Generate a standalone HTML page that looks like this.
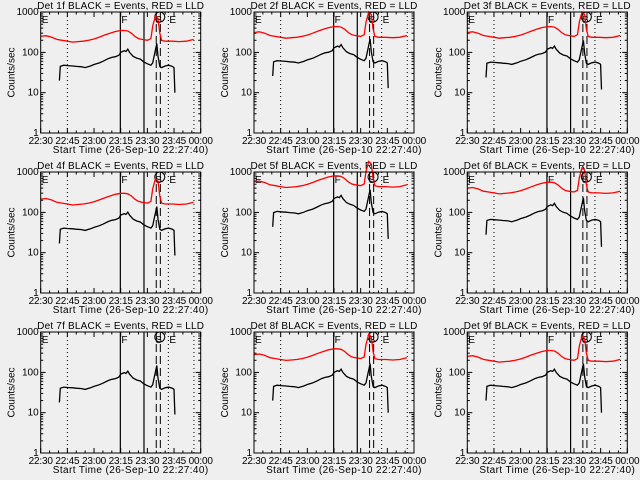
<!DOCTYPE html>
<html><head><meta charset="utf-8"><style>
body{margin:0;background:#efefef;}
svg{display:block;}
text{font-family:"Liberation Sans",sans-serif;font-size:10px;fill:#000;}
</style></head><body>
<svg id="chart" width="640" height="480" viewBox="0 0 640 480"></svg>
<script>
const detNames=["1f","2f","3f","4f","5f","6f","7f","8f","9f"];
const tickLabels=["22:30","22:45","23:00","23:15","23:30","23:45","00:00"];
const yTickLabels=["1000","100","10","1"];
const yTickValues=[1000,100,10,1];
const blackTimes=[10.5,11,13,15,18,20,23,25,28,30,33,35,38,40,42,44,45,46,47,48,49,50,52,54,56,58,60,62,63,64,65.3,66,67,68,70,72,74,75,75.5];
const blackBase=[20,45,48,47,46,45,44,42,46,50,55,60,70,75,78,85,100,105,110,105,120,100,80,72,68,58,52,48,55,90,165,80,45,42,46,48,45,42,10];
const redTimes=[0,3,6,9,12,15,18,21,24,27,30,33,36,39,42,45,47,49,51,53,55,57,60,62,63,64.5,66,67,68,70,74,78,82,86];
const redBase=[250,260,240,210,200,190,180,185,190,200,215,240,270,300,330,350,350,340,300,250,220,210,200,220,450,800,700,300,200,190,190,185,190,210];
const blackLevel=[1,1.3,1.2,0.85,2.2,1.4,0.9,1.0,1.0];
const redLevel=[1,1.25,1.25,0.85,2.3,1.6,0,1.1,1.0];
const fTimes=[44.8,58.1];
const sTimes=[65,67.3];
const dotTimes=[15,71.8,86.2];

const svg=document.getElementById('chart');
const NS='http://www.w3.org/2000/svg';
function mk(tag,attrs,parent){const e=document.createElementNS(NS,tag);for(const k in attrs)e.setAttribute(k,attrs[k]);(parent||svg).appendChild(e);return e;}

for(let p=0;p<9;p++){
  const col=p%3,row=Math.floor(p/3);
  const L=40.7+col*213.3,R=L+160,T=12+row*160,B=133+row*160;
  const xs=t=>L+t*(160/90);
  const ys=v=>B-Math.log10(v)*40.3;
  const g=mk('g',{});
  
  
  const title=mk('text',{x:(L+R)/2,y:T-3,'text-anchor':'middle','letter-spacing':'0.2'},g);
  title.textContent='Det '+detNames[p]+' BLACK = Events, RED = LLD';
  
  
  const yl=mk('text',{x:0,y:0,'text-anchor':'middle',transform:`translate(${L-26},${(T+B)/2}) rotate(-90)`,'font-size':'8'},g);
  yl.textContent='Counts/sec';
  
  
  const xl=mk('text',{x:(L+R)/2+10,y:B+20,'text-anchor':'middle','letter-spacing':'0.4'},g);
  xl.textContent='Start Time (26-Sep-10 22:27:40)';
  
  
  yTickValues.forEach((v,i)=>{
    const t=mk('text',{x:L-2,y:ys(v)+3,'text-anchor':'end','font-size':'9'},g);
    t.textContent=yTickLabels[i];
    
    
    mk('line',{x1:L,x2:L+5,y1:ys(v),y2:ys(v),stroke:'#000'},g);
    mk('line',{x1:R,x2:R-5,y1:ys(v),y2:ys(v),stroke:'#000'},g);
    if(v<1000)for(let m=2;m<10;m++){const yy=ys(v*m);mk('line',{x1:L,x2:L+2.5,y1:yy,y2:yy,stroke:'#000'},g);mk('line',{x1:R,x2:R-2.5,y1:yy,y2:yy,stroke:'#000'},g);}
  });
  tickLabels.forEach((lab,i)=>{
    const x=xs(i*15);
    const t=mk('text',{x:x,y:B+11,'text-anchor':'middle','font-size':'8','letter-spacing':'-0.2'},g);
    t.textContent=lab;
    
    
    mk('line',{x1:x,x2:x,y1:B,y2:B-5,stroke:'#000'},g);
    mk('line',{x1:x,x2:x,y1:T,y2:T+5,stroke:'#000'},g);
    if(i<6)for(let m=1;m<3;m++){const xx=xs(i*15+m*5);mk('line',{x1:xx,x2:xx,y1:B,y2:B-2.5,stroke:'#000'},g);mk('line',{x1:xx,x2:xx,y1:T,y2:T+2.5,stroke:'#000'},g);}
  });
  dotTimes.forEach(t=>{const l=mk('line',{x1:xs(t),x2:xs(t),y1:T,y2:B,stroke:'#000','stroke-dasharray':'1,3'},g);});
  fTimes.forEach(t=>{const l=mk('line',{x1:xs(t),x2:xs(t),y1:T,y2:B,stroke:'#000','stroke-width':'1.2'},g);});
  sTimes.forEach(t=>{const l=mk('line',{x1:xs(t),x2:xs(t),y1:T,y2:B,stroke:'#000','stroke-dasharray':'8,4'},g);});
  [['E',L+1],['F',xs(fTimes[0])+1],['S',xs(sTimes[0])-1],['E',xs(dotTimes[1])+1]].forEach(([s,x])=>{
    const t=mk('text',{x:x,y:T+11,'font-size':'13'},g);t.textContent=s;
    
    
  });
  mk('circle',{cx:xs(sTimes[0])+3.5,cy:T+5,r:5,fill:'none',stroke:'#000'},g);
  if(redLevel[p]>0){
    const pts=redTimes.map((t,i)=>xs(t).toFixed(1)+','+ys(redBase[i]*redLevel[p]).toFixed(1)).join(' ');
    const pl=mk('polyline',{points:pts,fill:'none',stroke:'#ff0000','stroke-width':'1.3'},g);
    
    
  }
  const bpts=blackTimes.map((t,i)=>xs(t).toFixed(1)+','+ys(blackBase[i]*blackLevel[p]).toFixed(1)).join(' ');
  const bl=mk('polyline',{points:bpts,fill:'none',stroke:'#000','stroke-width':'1.3'},g);
  
  
  const fr=mk('rect',{x:L,y:T,width:R-L,height:B-T,fill:'none',stroke:'#000'},g);
  
  
}
</script>
</body></html>
